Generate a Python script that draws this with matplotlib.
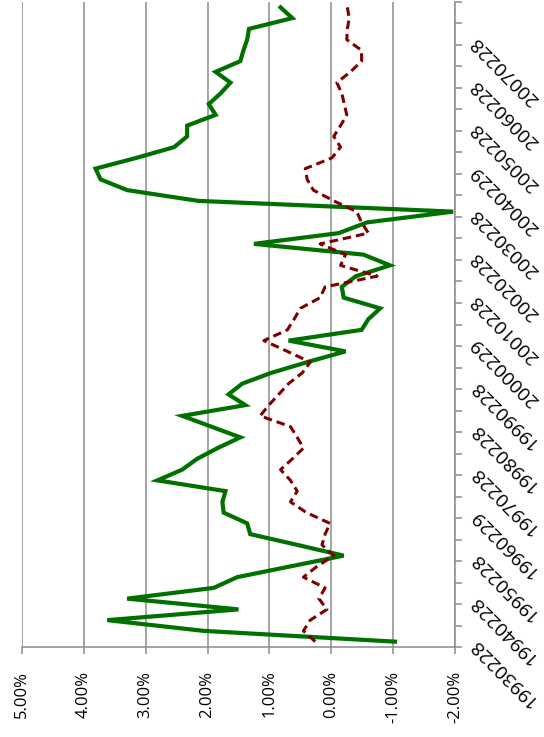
import matplotlib.pyplot as plt
import numpy as np

# quarterly series, first quarter 1993 to last quarter 2007 (percent)
serie_verde = [
    -1.03, 2.06, 3.62, 1.50, 3.30, 1.90, 1.52, 0.66, -0.20, 0.55,
    1.31, 1.36, 1.74, 1.76, 1.71, 2.81, 2.41, 2.17, 1.84, 1.47,
    1.94, 2.41, 1.39, 1.66, 1.44, 0.97, 0.39, -0.23, 0.69, -0.49,
    -0.60, -0.79, -0.20, -0.17, -0.40, -0.95, -0.52, 1.25, -0.12, -0.58,
    -1.97, 2.15, 3.30, 3.73, 3.81, 3.15, 2.54, 2.33, 2.33, 1.87,
    1.98, 1.79, 1.63, 1.87, 1.47, 1.42, 1.36, 1.33, 0.63, 0.82,
]
serie_roja = [
    0.26, 0.45, 0.34, 0.07, 0.20, 0.10, 0.45, 0.23, -0.04, 0.15,
    0.10, 0.02, 0.40, 0.66, 0.55, 0.66, 0.82, 0.63, 0.45, 0.55,
    0.66, 1.15, 1.01, 0.85, 0.69, 0.47, 0.34, 0.71, 1.09, 0.71,
    0.60, 0.50, 0.18, 0.10, -0.74, -0.15, -0.23, 0.18, -0.60, -0.49,
    -0.41, -0.04, 0.29, 0.39, 0.42, -0.01, -0.15, -0.04, -0.15, -0.25,
    -0.21, -0.17, -0.09, -0.31, -0.49, -0.49, -0.25, -0.26, -0.29, -0.26,
]
fechas = [
    '19930228', '19940228', '19950228', '19960229', '19970228',
    '19980228', '19990228', '20000229', '20010228', '20020228',
    '20030228', '20040229', '20050228', '20060228', '20070228',
]
valores_eje = [5, 4, 3, 2, 1, 0, -1, -2]

n = len(serie_verde)
pos = np.arange(n) + 0.5

fig = plt.figure(figsize=(5.44, 7.37), dpi=100)
ax = fig.add_axes([0.0404, 0.1221, 0.7960, 0.8752])

gris = '#8c8c8c'
ax.plot(serie_verde, pos, color='#007000', linewidth=3.0, solid_joinstyle='miter')
ax.plot(serie_roja, pos, color='#800000', linewidth=2.2,
        linestyle=(0, (2.8, 1.6)))

ax.set_xlim(5, -2)
ax.set_ylim(0, n)

ax.set_xticks(valores_eje)
ax.set_xticklabels([f'{v:.2f}%' for v in valores_eje], rotation=90,
                   fontsize=12, family='Open Sans')
ax.grid(axis='x', color=gris, linewidth=1.1)
ax.tick_params(axis='x', length=5, width=1.1, color=gris, pad=12)

# fechas a la derecha, invertidas
ax.yaxis.tick_right()
ax.set_yticks(pos[::4])
ax.set_yticklabels(fechas, fontsize=13.8, family='Open Sans')
ax.set_yticks(np.arange(0, n + 1, 2), minor=True)
ax.tick_params(axis='y', which='major', length=0, pad=13)
ax.tick_params(axis='y', which='minor', length=5, width=1.1, color=gris)
for lbl in ax.get_yticklabels():
    lbl.set_rotation(135)
    lbl.set_rotation_mode('anchor')
    lbl.set_ha('right')
    lbl.set_va('center')

for lado in ['top', 'left']:
    ax.spines[lado].set_visible(False)
for lado in ['bottom', 'right']:
    ax.spines[lado].set_color(gris)
    ax.spines[lado].set_linewidth(1.1)

fig.savefig('out.png', dpi=100)
